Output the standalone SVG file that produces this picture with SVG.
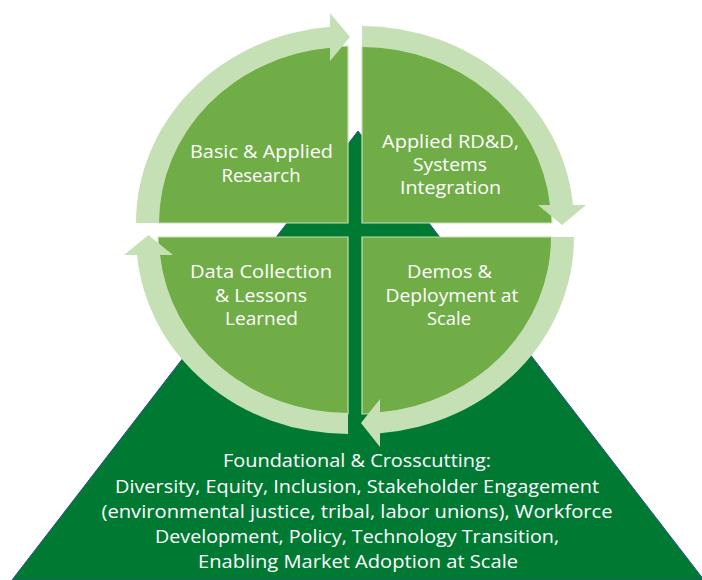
<svg xmlns="http://www.w3.org/2000/svg" width="702" height="580" viewBox="0 0 702 580">
<style>
.q{fill:#70AD47;stroke:#C5E0B4;stroke-width:1.2}
.band{fill:#C5E0B4}
.t{fill:#FFFFFF;font-family:"Open Sans","Noto Sans",sans-serif;font-size:17.5px;text-anchor:middle}
.b{fill:#FFFFFF;font-family:"Open Sans","Noto Sans",sans-serif;font-size:17.5px;text-anchor:middle}
</style>
<rect width="702" height="580" fill="#FFFFFF"/>
<g id="foundation">
<polygon points="358,131 12,580 704,580" fill="#007A33" stroke="#2F4F8F" stroke-width="1"/>
<text class="b" x="357" y="467" textLength="268" lengthAdjust="spacingAndGlyphs">Foundational &amp; Crosscutting:</text>
<text class="b" x="357" y="493" textLength="484" lengthAdjust="spacingAndGlyphs">Diversity, Equity, Inclusion, Stakeholder Engagement</text>
<text class="b" x="357" y="518" textLength="511" lengthAdjust="spacingAndGlyphs">(environmental justice, tribal, labor unions), Workforce</text>
<text class="b" x="357" y="543" textLength="404" lengthAdjust="spacingAndGlyphs">Development, Policy, Technology Transition,</text>
<text class="b" x="358" y="568" textLength="320" lengthAdjust="spacingAndGlyphs">Enabling Market Adoption at Scale</text>
</g>
<g id="q-basic">
<path class="q" d="M348,223 L158,223 A190 177 0 0 1 348,46 Z"/>
<text class="t" x="261.5" y="158" textLength="143" lengthAdjust="spacingAndGlyphs">Basic &amp; Applied</text>
<text class="t" x="261" y="182" textLength="79" lengthAdjust="spacingAndGlyphs">Research</text>
</g>
<g id="q-applied">
<path class="q" d="M362,223 L362,46 A190 177 0 0 1 552,223 Z"/>
<text class="t" x="450.5" y="148" textLength="137" lengthAdjust="spacingAndGlyphs">Applied RD&amp;D,</text>
<text class="t" x="450" y="171" textLength="74" lengthAdjust="spacingAndGlyphs">Systems</text>
<text class="t" x="450.5" y="194" textLength="101" lengthAdjust="spacingAndGlyphs">Integration</text>
</g>
<g id="q-demos">
<path class="q" d="M362,237 L552,237 A190 177 0 0 1 362,414 Z"/>
<text class="t" x="449.5" y="278" textLength="85" lengthAdjust="spacingAndGlyphs">Demos &amp;</text>
<text class="t" x="452" y="302" textLength="133" lengthAdjust="spacingAndGlyphs">Deployment at</text>
<text class="t" x="449" y="325" textLength="44" lengthAdjust="spacingAndGlyphs">Scale</text>
</g>
<g id="q-data">
<path class="q" d="M348,237 L348,414 A190 177 0 0 1 158,237 Z"/>
<text class="t" x="261" y="278" textLength="142" lengthAdjust="spacingAndGlyphs">Data Collection</text>
<text class="t" x="261" y="302" textLength="92" lengthAdjust="spacingAndGlyphs">&amp; Lessons</text>
<text class="t" x="261.5" y="325" textLength="73" lengthAdjust="spacingAndGlyphs">Learned</text>
</g>
<g id="connectors">
<path class="band" d="M136,223 A212 197 0 0 1 330,26.7 L330,13 L350,37 L330,61 L330,47.8 A189 176 0 0 0 159,223 Z"/>
<path class="band" d="M362,26 A212 197 0 0 1 573,205 L586,205 L562,225 L538,205 L550,205 A189 176 0 0 0 362,47 Z"/>
<path class="band" d="M574,237 A212 197 0 0 1 380,433.3 L380,447 L361,423 L380,399 L380,412.2 A189 176 0 0 0 551,237 Z"/>
<path class="band" d="M348,434 A212 197 0 0 1 137,255 L124,255 L148.5,235 L173,255 L160,255 A189 176 0 0 0 348,413 Z"/>
</g>
</svg>
